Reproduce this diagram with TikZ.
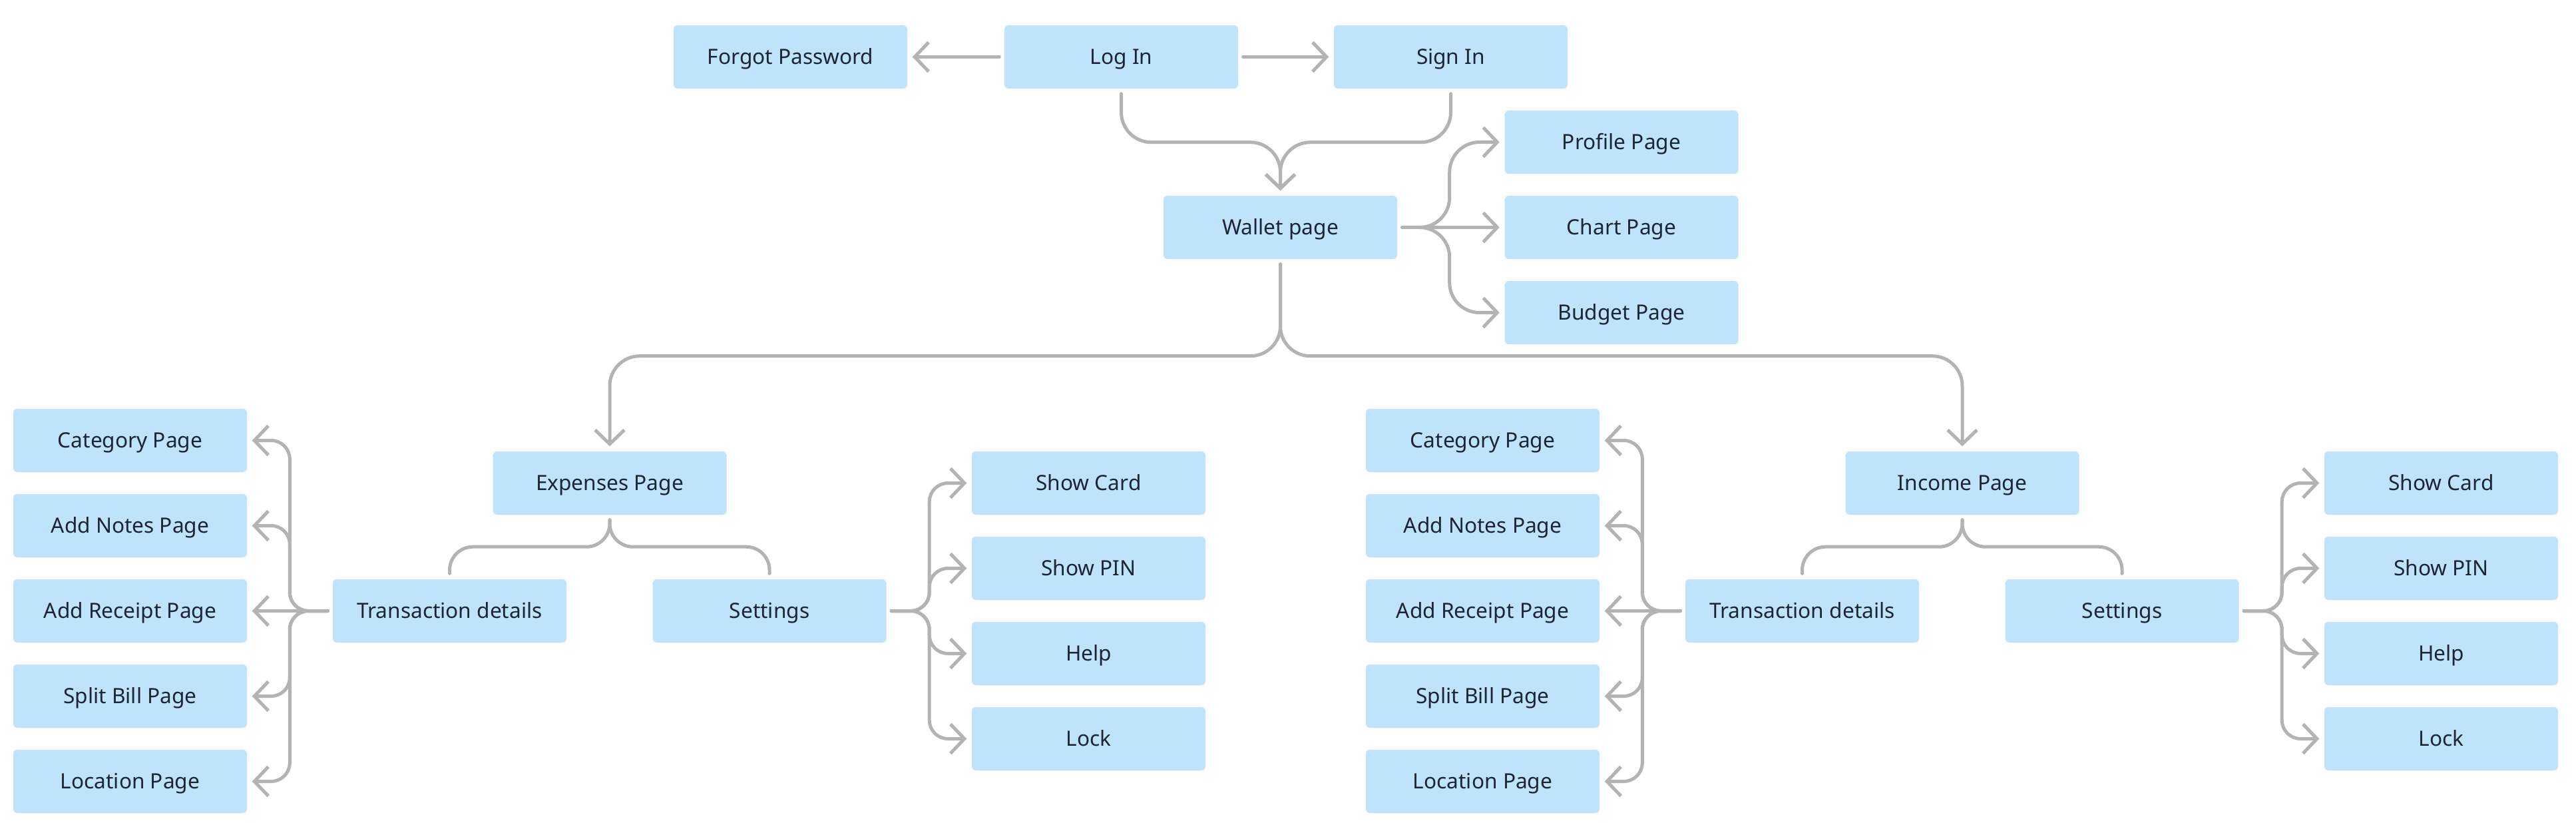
\documentclass[tikz,border=0pt]{standalone}
\usepackage{fontspec}
\setmainfont{Noto Sans}
\usetikzlibrary{arrows.meta}
\definecolor{boxfill}{HTML}{BEE3FA}
\definecolor{ink}{HTML}{1B2533}
\definecolor{wire}{HTML}{B3B3B3}
\tikzset{
  pg/.style ={fill=boxfill, rounded corners=0.6mm, minimum width=3.51cm, minimum height=0.95cm,
              inner sep=0pt, text height=6.4pt, text depth=0pt,
              font=\fontsize{9}{11}\selectfont, text=ink},
  wr/.style ={draw=wire, line width=0.05cm, line cap=round, line join=round,
              rounded corners=4.5mm, shorten <=0.07cm},
  ln/.style ={wr, shorten >=0.08cm},
  fl/.style ={wr, shorten >=0.07cm, -{Straight Barb[length=2.1mm,width=4.4mm]}},
  fan/.style={fl, rounded corners=2.8mm},
}

\begin{document}
\begin{tikzpicture}[x=1cm,y=1cm]
  \useasboundingbox (0,0) rectangle (38.70,-12.36);
  % entry
  \node[pg] (forgot) at (11.875,-0.855) {Forgot Password};
  \node[pg] (login)  at (16.845,-0.855) {Log In};
  \node[pg] (signin) at (21.795,-0.855) {Sign In};
  \node[pg] (wallet) at (19.235,-3.415) {Wallet page};
  \foreach \n/\y/\txt in {profile/-2.135/Profile Page, chart/-3.415/Chart Page, budget/-4.695/Budget Page}
    \node[pg] (\n) at (24.36,\y) {\txt};

  \draw[fl] (login) -- (forgot);
  \draw[fl] (login) -- (signin);
  \draw[fl] (login.south) -- ++(0,-0.80) -| (wallet.north);
  \draw[fl] (signin.south) -- ++(0,-0.80) -| (wallet.north);
  \draw[fl] (wallet) -- (chart);
  \draw[fl] (wallet.east) -- ++(0.78,0) |- (profile.west);
  \draw[fl] (wallet.east) -- ++(0.78,0) |- (budget.west);

  % the two halves are the same, shifted by \dx
  \foreach \h/\dx/\hd in {exp/0/Expenses Page, inc/20.32/Income Page}{
    \node[pg] (\h) at (9.16+\dx,-7.255) {\hd};
    \node[pg] (\h-tr) at (6.755+\dx,-9.175) {Transaction details};
    \node[pg] (\h-st) at (11.56+\dx,-9.175) {Settings};
    \foreach \j/\txt in {1/Category Page, 2/Add Notes Page, 3/Add Receipt Page,
                         4/Split Bill Page, 5/Location Page}
      \node[pg] (\h-c\j) at (1.955+\dx,-5.335-1.28*\j) {\txt};
    \foreach \j/\txt in {1/Show Card, 2/Show PIN, 3/Help, 4/Lock}
      \node[pg] (\h-s\j) at (16.355+\dx,-5.975-1.28*\j) {\txt};

    \draw[fl] (wallet.south) -- ++(0,-1.45) -| (\h.north);
    \draw[ln, rounded corners=3.5mm] (\h.south) -- ++(0,-0.475) -| (\h-tr.north);
    \draw[ln, rounded corners=3.5mm] (\h.south) -- ++(0,-0.475) -| (\h-st.north);
    \draw[fl] (\h-tr.west) -- (\h-c3.east);
    \foreach \j in {1,2,4,5}
      \draw[fan] (\h-tr.west) -- ++(-0.64,0) |- (\h-c\j.east);
    \foreach \j in {1,...,4}
      \draw[fan] (\h-st.east) -- ++(0.64,0) |- (\h-s\j.west);
  }
\end{tikzpicture}
\end{document}
